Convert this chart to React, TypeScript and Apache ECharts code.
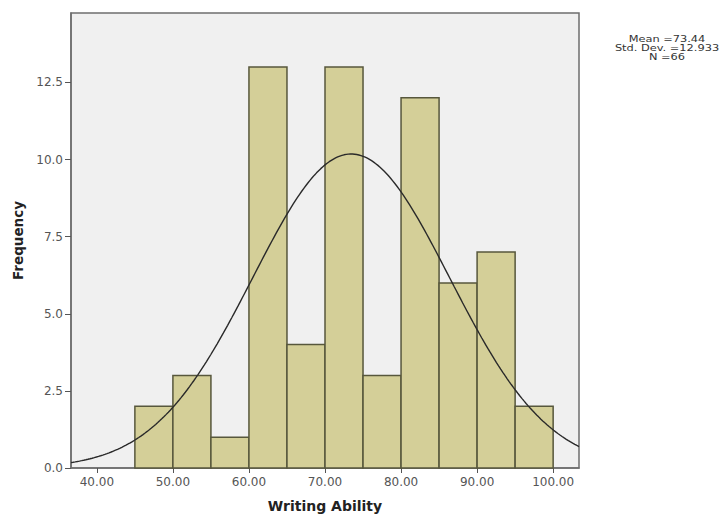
import React, { useEffect, useRef } from "react";
import * as echarts from "echarts";

// Histogram data
const binStarts = [45, 50, 55, 60, 65, 70, 75, 80, 85, 90, 95];
const counts = [2, 3, 1, 13, 4, 13, 3, 12, 6, 7, 2];
const binWidth = 5;

// Axis ticks
const xTicks = [40, 50, 60, 70, 80, 90, 100];
const yTicks = [0, 2.5, 5, 7.5, 10, 12.5];

// Summary statistics shown in the legend box
const mean = 73.44;
const stdDev = 12.933;
const n = 66;

const xMin = 36.6;
const xMax = 103.4;
const yMax = 14.75;

const FONT = "DejaVu Sans";

export default function App() {
  const ref = useRef<HTMLDivElement>(null);

  useEffect(() => {
    if (!ref.current) return;
    const chart = echarts.init(ref.current, undefined, { renderer: "svg" });

    const barData = binStarts.map((s, i) => [s, s + binWidth, counts[i]]);

    // Fitted normal curve scaled to frequency: N * binWidth * pdf(x)
    const curve: number[][] = [];
    const steps = 240;
    for (let i = 0; i <= steps; i++) {
      const x = xMin + ((xMax - xMin) * i) / steps;
      const z = (x - mean) / stdDev;
      const y = (n * binWidth * Math.exp(-0.5 * z * z)) / (stdDev * Math.sqrt(2 * Math.PI));
      curve.push([x, y]);
    }

    chart.setOption({
      animation: false,
      backgroundColor: "#ffffff",
      grid: {
        left: 71,
        right: 148,
        top: 13,
        bottom: 50,
        show: true,
        backgroundColor: "#F0F0F0",
        borderColor: "#6e6e6e",
        borderWidth: 1.5,
      },
      xAxis: {
        type: "value",
        min: xMin,
        max: xMax,
        name: "Writing Ability",
        nameLocation: "middle",
        nameGap: 31,
        nameTextStyle: { fontFamily: FONT, fontWeight: "bold", fontSize: 14, color: "#222" },
        axisLine: { show: true, lineStyle: { color: "#6e6e6e", width: 1.5 } },
        axisTick: {
          show: true,
          length: 5,
          lineStyle: { color: "#555" },
          customValues: xTicks,
        },
        axisLabel: {
          customValues: xTicks,
          formatter: (v: number) => v.toFixed(2),
          fontFamily: FONT,
          fontSize: 12,
          color: "#555",
          margin: 8,
        },
        splitLine: { show: false },
      },
      yAxis: {
        type: "value",
        min: 0,
        max: yMax,
        name: "Frequency",
        nameLocation: "middle",
        nameGap: 42,
        nameTextStyle: { fontFamily: FONT, fontWeight: "bold", fontSize: 13.5, color: "#222" },
        axisLine: { show: true, lineStyle: { color: "#6e6e6e", width: 1.5 } },
        axisTick: {
          show: true,
          length: 6,
          lineStyle: { color: "#555" },
          customValues: yTicks,
        },
        axisLabel: {
          customValues: yTicks,
          formatter: (v: number) => v.toFixed(1),
          fontFamily: FONT,
          fontSize: 12,
          color: "#555",
          margin: 8,
        },
        splitLine: { show: false },
      },
      graphic: [
        {
          type: "text",
          x: 667,
          y: 35,
          scaleX: 1.34,
          style: {
            text: `Mean =${mean.toFixed(2)}\nStd. Dev. =${stdDev.toFixed(3)}\nN =${n}`,
            font: `8.5px "${FONT}"`,
            fill: "#333",
            align: "center",
            verticalAlign: "top",
            lineHeight: 9,
          },
        },
      ],
      series: [
        {
          type: "custom",
          data: barData,
          encode: { x: [0, 1], y: 2 },
          renderItem: (params: any, api: any) => {
            const p0 = api.coord([api.value(0), 0]);
            const p1 = api.coord([api.value(1), api.value(2)]);
            return {
              type: "rect",
              shape: { x: p0[0], y: p1[1], width: p1[0] - p0[0], height: p0[1] - p1[1] },
              style: { fill: "#D4CF98", stroke: "#57573c", lineWidth: 1.5 },
            };
          },
          z: 2,
        },
        {
          type: "line",
          data: curve,
          showSymbol: false,
          smooth: false,
          lineStyle: { color: "#2a2a2a", width: 1.4 },
          z: 3,
        },
      ],
    });

    return () => chart.dispose();
  }, []);

  return (
    <div
      ref={ref}
      style={{ position: "fixed", left: 0, top: 0, width: 727, height: 518 }}
    />
  );
}
